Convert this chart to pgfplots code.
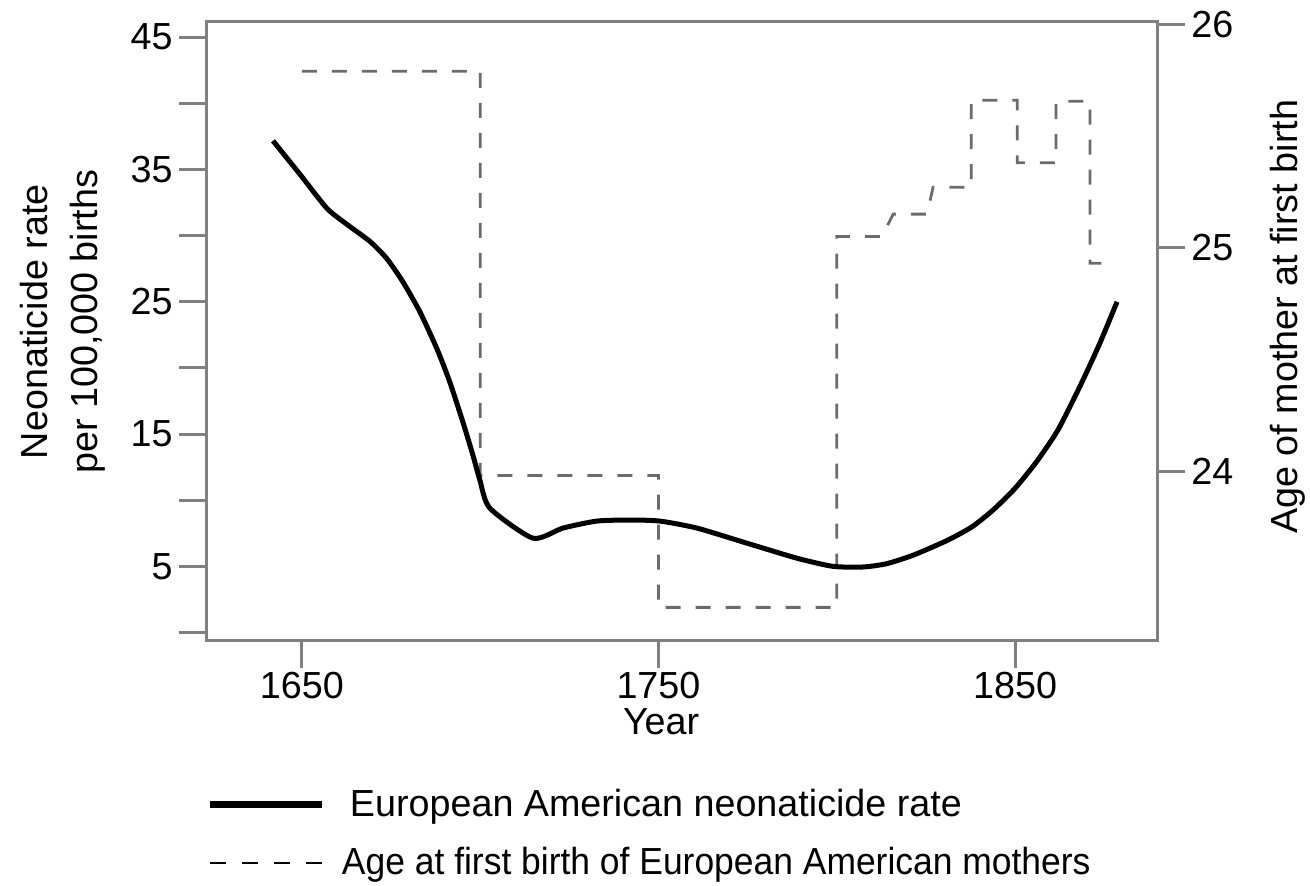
\documentclass[border=0pt]{standalone}
\usepackage{fontspec}
\setmainfont{Liberation Sans}
\usepackage{pgfplots}
\pgfplotsset{compat=1.18}
\newcommand{\myfont}{\fontsize{18.85}{24}\selectfont}
\definecolor{axgray}{gray}{0.5}
\definecolor{dashgray}{gray}{0.42}
\begin{document}
\begin{tikzpicture}
\pgfplotsset{
  common/.style={
    width=475pt, height=309pt, scale only axis,
    xmin=1623.4, xmax=1889.8,
    tick align=outside, major tick length=14pt,
    tick label style={font=\myfont, text=black},
    axis line style={axgray, line width=1.5pt},
    major tick style={axgray, line width=1.5pt},
  }
}
% right scale: age at first birth (step series)
\begin{axis}[common, name=rightax,
  axis x line=none, axis y line*=right,
  ymin=23.244, ymax=26.01,
  ytick={24,25,26}, yticklabels={24,25,26},
  yticklabel style={inner sep=3pt},
  ylabel={Age of mother at first birth},
  every axis y label/.style={at={(axis description cs:1.1116,0.523)}, anchor=north, rotate=90, font=\myfont},
]
\addplot[dashgray, line width=1.4pt, dash pattern=on 7.5pt off 7.5pt] table {
1650   25.79
1700   25.79
1700   23.98
1750   23.98
1750   23.39
1800   23.39
1800   25.05
1812.7 25.05
1815.8 25.15
1825.3 25.15
1827   25.27
1837.7 25.27
1837.7 25.66
1850.6 25.66
1850.6 25.38
1861.5 25.38
1861.5 25.655
1871   25.655
1871   24.93
1876.1 24.93
};
\end{axis}
% left scale: neonaticide rate
\begin{axis}[common, name=main,
  ymin=-0.57, ymax=46.15,
  xtick={1650,1750,1850}, xticklabels={1650,1750,1850},
  xtick pos=bottom, ytick pos=left,
  ytick={0,5,...,45}, yticklabels={,5,,15,,25,,35,,45},
  xticklabel style={inner sep=2pt},
  yticklabel style={inner sep=3pt},
  xlabel={Year},
  every axis x label/.style={at={(axis description cs:0.478,-0.110)}, anchor=north, inner sep=0pt, font=\myfont},
  ylabel={Neonaticide rate\\per 100,000 births},
  every axis y label/.style={at={(axis description cs:-0.1,0.515)}, anchor=south, rotate=90, align=center, font=\fontsize{18.85}{25}\selectfont},
  legend style={at={(axis description cs:0,-0.241)}, anchor=north west, draw=none, fill=none,
    inner sep=0pt, outer sep=0pt, row sep=11pt, column sep=12pt, font=\myfont,
    nodes={inner sep=0pt, text height=14pt, text depth=4pt}, cells={anchor=west}},
  legend image code/.code={\draw[#1] (0pt,1pt) -- (56pt,1pt);},
]
\addplot[black, line width=2.5pt, line join=round, smooth, tension=0.4, forget plot] table {
1641.9 37.17
1649.4 34.66
1657.0 32.07
1662.6 30.86
1669.1 29.56
1673.8 28.27
1678.3 26.52
1683.1 24.24
1687.9 21.43
1691.5 18.92
1695.2 15.87
1698.0 13.37
1699.9 11.54
1702.7 9.40
1714.8 7.13
1723.2 7.89
1732.7 8.42
1742.0 8.50
1750.4 8.42
1760.8 7.89
1774.8 6.75
1788.9 5.61
1798.9 5.00
1807.4 4.95
1814.0 5.20
1821.4 5.84
1830.9 6.95
1838.0 8.00
1844.0 9.30
1850.0 10.90
1856.0 12.90
1862.0 15.30
1868.0 18.50
1873.5 21.70
1878.6 25.00
};
\addlegendimage{black, line width=3.5pt}
\addlegendentry{European American neonaticide rate}
\addlegendimage{black, line width=1.3pt, dash pattern=on 8pt off 8pt}
\addlegendentry{\hspace*{-4pt}\scalebox{0.94}[1]{Age at first birth of European American mothers}}
\end{axis}
\pgfresetboundingbox
\path[use as bounding box] ([xshift=-103.5pt,yshift=-122.5pt]main.south west) rectangle ([xshift=76.5pt,yshift=11pt]main.north east);
\end{tikzpicture}
\end{document}
